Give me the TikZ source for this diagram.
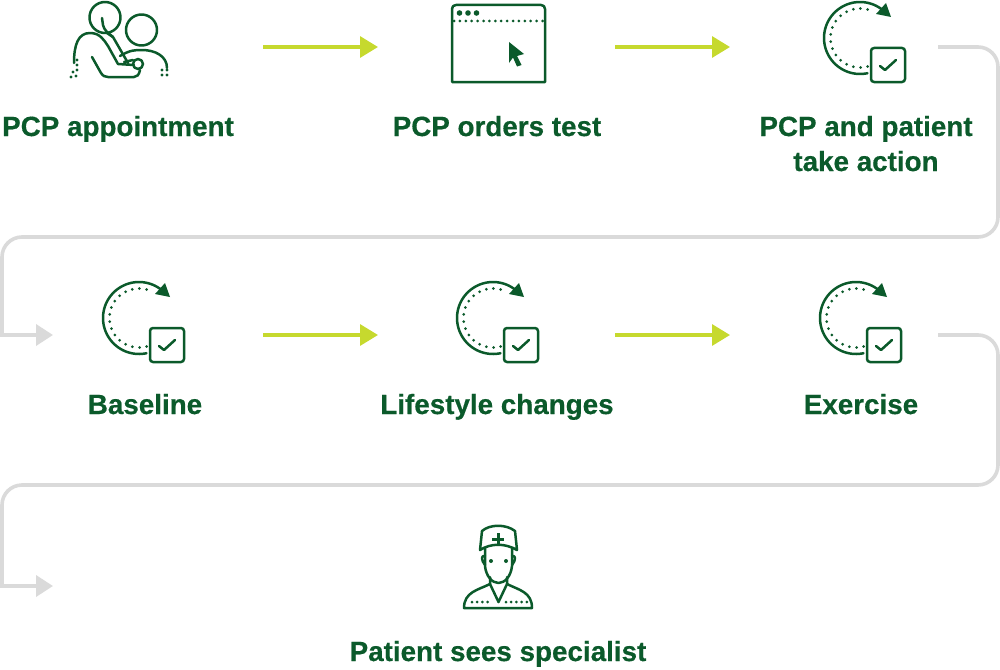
\documentclass[tikz,border=0pt]{standalone}
\usepackage{fontspec}
\setmainfont[BoldFeatures={FakeBold=0.5}]{Liberation Sans}
\usetikzlibrary{arrows.meta}
\definecolor{dkgreen}{HTML}{0B5A2B}
\definecolor{limeg}{HTML}{C6D92E}
\definecolor{greyl}{HTML}{DADADA}
\tikzset{
  x=1pt,y=-1pt,
  lab/.style={font=\bfseries\fontsize{27.8}{35}\selectfont,text=dkgreen,inner sep=0pt,align=center,anchor=base},
  limearrow/.style={draw=limeg,line width=3.2pt,-{Triangle[length=18pt,width=21pt]}},
  greyarrow/.style={draw=greyl,line width=3.6pt,-{Triangle[length=17pt,width=21pt]}},
  ic/.style={draw=dkgreen,line width=2.5pt,line cap=round,line join=round},
  dots/.style={draw=dkgreen,line width=3pt,line cap=round,dash pattern=on 0pt off 7.2pt},
  refresh/.pic={
    \draw[ic] plot[domain=282:52,samples=60] ({36*cos(\x)},{-36*sin(\x)});
    \fill[dkgreen] (26,-35) -- (31,-21) -- (16,-24) -- cycle;
    \draw[dots] plot[domain=285:62,samples=60,smooth] ({29.5*cos(\x)},{-29.5*sin(\x)});
    \draw[ic,fill=white,rounded corners=3pt] (11,10) rectangle (45,44);
    \draw[ic] (20,28) -- (25,32) -- (36,22);
  }
}
\begin{document}
\begin{tikzpicture}
\useasboundingbox (0,0) rectangle (1000,669);
% labels
\node[lab] (l1) at (118,136) {PCP appointment};
\node[lab] (l2) at (497,136) {PCP orders test};
\node[lab] (l3) at (866,136) {PCP and patient};
\node[lab] (l3b) at (866,171) {take action};
\node[lab] (l4) at (145,414) {Baseline};
\node[lab] (l5) at (497,414) {Lifestyle changes};
\node[lab] (l6) at (861,414) {Exercise};
\node[lab] (l7) at (498,661) {Patient sees specialist};
% lime connectors
\coordinate (a1) at (263,47); \coordinate (b1) at (378,47);
\coordinate (a2) at (615,47); \coordinate (b2) at (730,47);
\coordinate (a3) at (263,335); \coordinate (b3) at (378,335);
\coordinate (a4) at (615,335); \coordinate (b4) at (730,335);
\draw[limearrow] (a1) -- (b1);
\draw[limearrow] (a2) -- (b2);
\draw[limearrow] (a3) -- (b3);
\draw[limearrow] (a4) -- (b4);
% grey connectors
\coordinate (g1) at (938,47); \coordinate (g1a) at (998,47); \coordinate (g1b) at (998,237);
\coordinate (g1c) at (2,237); \coordinate (g1x) at (2,310); \coordinate (g1d) at (2,335); \coordinate (g1e) at (53,335);
\coordinate (g2) at (938,335); \coordinate (g2a) at (998,335); \coordinate (g2b) at (998,485);
\coordinate (g2c) at (2,485); \coordinate (g2x) at (2,560); \coordinate (g2d) at (2,586); \coordinate (g2e) at (53,586);
\draw[greyarrow,rounded corners=20pt] (g1) -- (g1a) -- (g1b) -- (g1c) -- (g1x) [sharp corners] -- (g1d) -- (g1e);
\draw[greyarrow,rounded corners=20pt] (g2) -- (g2a) -- (g2b) -- (g2c) -- (g2x) [sharp corners] -- (g2d) -- (g2e);
% refresh icons
\pic at (860,38) {refresh};
\pic at (139,318) {refresh};
\pic at (493,318) {refresh};
\pic at (856,318) {refresh};
% PCP appointment icon
\draw[ic] (105,17.5) circle[radius=15.5pt];
\draw[ic] (141.5,30) circle[radius=15.5pt];
\draw[ic] (74,63) .. controls (74,45) and (78,33) .. (90,33) .. controls (100,33) and (104,40) .. (108,46) -- (118,64) -- (134,65);
\draw[ic] (92,57) -- (101,73) .. controls (103,76) and (105,77) .. (108,77) -- (134,77) .. controls (137,77) and (139,75) .. (140,70);
\draw[ic] (102,18) -- (103,25) .. controls (104,30) and (108,33) .. (113,37) -- (128,63);
\draw[ic] (113,37) -- (107,33);
\draw[ic] (120,56) .. controls (130,50) and (135,50) .. (142,50) .. controls (155,50) and (167,56) .. (167,68);
\draw[ic] (124,62) -- (133,60);
\draw[ic] (138,64) circle[radius=5pt];
\foreach \y in {60,65,70} \fill[dkgreen] (77,\y) circle[radius=1.7pt];
\fill[dkgreen] (73,72) circle[radius=1.7pt] (71,77) circle[radius=1.7pt] (76,76) circle[radius=1.7pt];
\foreach \y in {70,75} {\fill[dkgreen] (162,\y) circle[radius=1.7pt];\fill[dkgreen] (167,\y) circle[radius=1.7pt];}
% browser icon
\draw[ic] (452,82) -- (452,9) .. controls (452,6.5) and (453.5,5) .. (456,5) -- (541,5) .. controls (543.5,5) and (545,6.5) .. (545,9) -- (545,82) -- cycle;
\foreach \x in {459.5,468,476.5} \fill[dkgreen] (\x,13) circle[radius=2.8pt];
\draw[dots,dash pattern=on 0pt off 5.9pt] (454,21) -- (544,21);
\fill[dkgreen] (509,42) -- (524,54) -- (517,56) -- (521.5,65) -- (517,66.5) -- (513,57.5) -- (509,63) -- cycle;
% specialist icon
\draw[ic] (480,550) -- (482,531) .. controls (490,524) and (506,524) .. (515,531) -- (517,550) .. controls (505,543) and (491,543) .. (480,550) -- cycle;
\draw[ic,line cap=butt,line width=3pt] (498,533) -- (498,545) (492,539) -- (504,539);
\draw[ic] (485,548) -- (485,566) .. controls (486,576) and (492,583) .. (498.5,583) .. controls (505,583) and (511,576) .. (512,566) -- (512,548);
\draw[ic] (485,556) .. controls (481,555) and (481,560) .. (485,565);
\draw[ic] (512,556) .. controls (516,555) and (516,560) .. (512,565);
\fill[dkgreen] (491,561) circle[radius=2pt] (506,561) circle[radius=2pt];
\draw[ic] (490,577) -- (490,584) -- (498.5,602) -- (507,584) -- (507,577);
\draw[ic] (490,584) .. controls (478,590) and (464,592) .. (464,608) -- (532,608) .. controls (532,592) and (519,590) .. (507,584);
\draw[dots,dash pattern=on 0pt off 5.2pt] (472,602) -- (491,602);
\draw[dots,dash pattern=on 0pt off 5.2pt] (506,602) -- (527,602);
\end{tikzpicture}
\end{document}
